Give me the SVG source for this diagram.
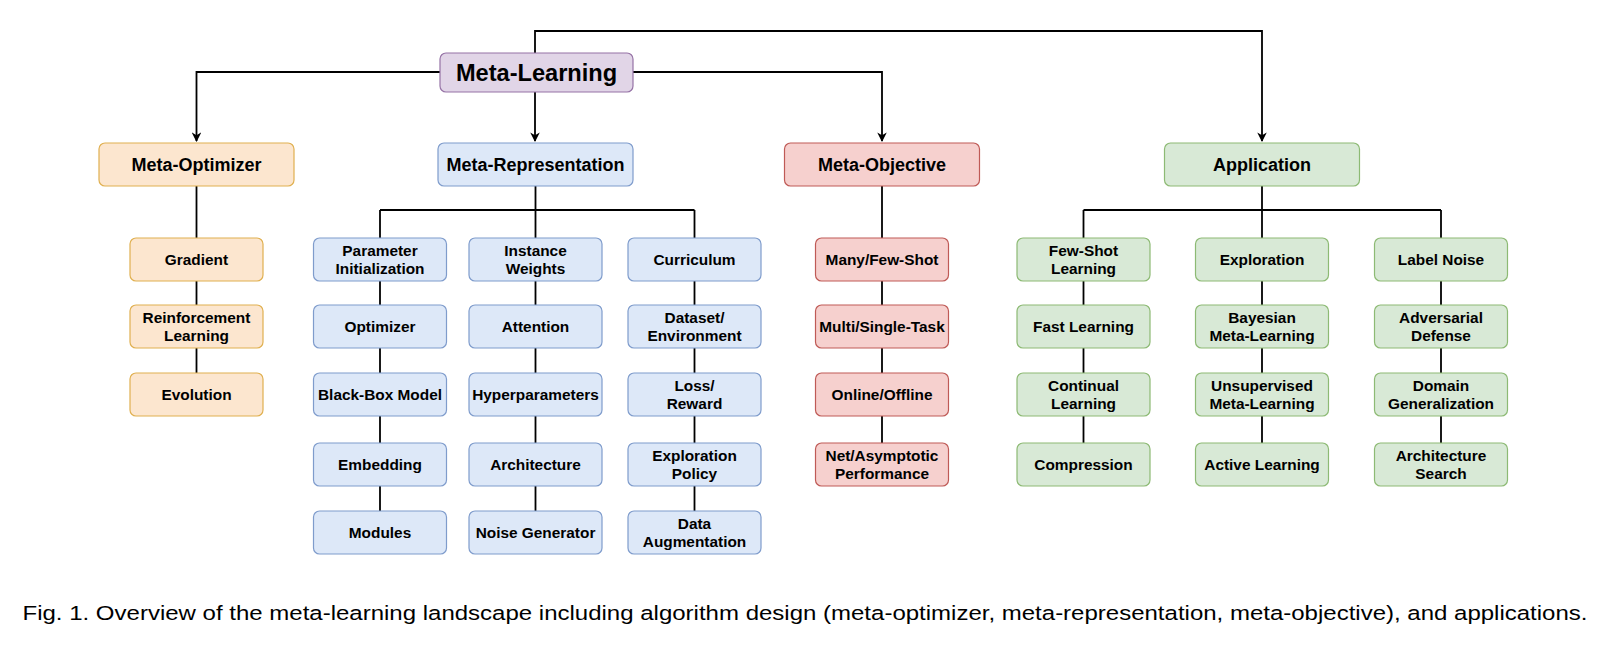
<svg xmlns="http://www.w3.org/2000/svg" width="1606" height="646" viewBox="0 0 1606 646">
<defs>
<marker id="arr" viewBox="0 0 10 10" refX="9" refY="5" markerWidth="9.5" markerHeight="9.5" markerUnits="userSpaceOnUse" orient="auto">
<path d="M0,0 L10,5 L0,10 L3,5 Z" fill="#000"/>
</marker>
<style>
text{font-family:"Liberation Sans",Arial,Helvetica,sans-serif;font-weight:bold;text-anchor:middle;fill:#000}
.c{stroke:#000;stroke-width:1.8;fill:none}
.pu{fill:#e1d5e7;stroke:#9673a6;stroke-width:1.2}
.or{fill:#fce6cf;stroke:#e0b050;stroke-width:1.2}
.bl{fill:#dde8f8;stroke:#7f9ccc;stroke-width:1.2}
.re{fill:#f6d0ce;stroke:#bf5a56;stroke-width:1.2}
.gr{fill:#d8e9d6;stroke:#8dba74;stroke-width:1.2}
.s{font-size:15.4px}
.m{font-size:18px}
.cap{font-family:"Liberation Sans",Arial,sans-serif;font-weight:normal;font-size:20.5px;text-anchor:start}
</style>
</defs>
<rect width="1606" height="646" fill="#fff"/>
<g id="connectors">
<path class="c" d="M535,53 V31 H1262 V141" marker-end="url(#arr)"/>
<path class="c" d="M440,72 H196.5 V141" marker-end="url(#arr)"/>
<path class="c" d="M535,92 V141" marker-end="url(#arr)"/>
<path class="c" d="M633,72 H882 V141" marker-end="url(#arr)"/>
<path class="c" d="M196.5,186 V373"/>
<path class="c" d="M535.5,186 V511"/>
<path class="c" d="M380,210 H694.5"/>
<path class="c" d="M380,210 V511"/>
<path class="c" d="M694.5,210 V511"/>
<path class="c" d="M882,186 V443"/>
<path class="c" d="M1262,186 V443"/>
<path class="c" d="M1083.5,210 H1441"/>
<path class="c" d="M1083.5,210 V443"/>
<path class="c" d="M1441,210 V443"/>
</g>
<g id="meta-learning"><rect class="pu" x="440" y="53" width="193" height="39" rx="6"/><text x="536.5" y="80.5" style="font-size:23.6px">Meta-Learning</text></g>
<g id="meta-optimizer"><rect class="or" x="99" y="143" width="195" height="43" rx="6"/><text class="m" x="196.5" y="171">Meta-Optimizer</text></g>
<g id="meta-representation"><rect class="bl" x="438" y="143" width="195" height="43" rx="6"/><text class="m" x="535.5" y="171">Meta-Representation</text></g>
<g id="meta-objective"><rect class="re" x="784.5" y="143" width="195" height="43" rx="6"/><text class="m" x="882" y="171">Meta-Objective</text></g>
<g id="application"><rect class="gr" x="1164.5" y="143" width="195" height="43" rx="6"/><text class="m" x="1262" y="171">Application</text></g>

<g id="gradient"><rect class="or" x="130" y="238" width="133" height="43" rx="6"/><text class="s" x="196.5" y="265">Gradient</text></g>
<g id="reinforcement-learning"><rect class="or" x="130" y="305" width="133" height="43" rx="6"/><text class="s" x="196.5" y="322.5">Reinforcement</text><text class="s" x="196.5" y="341">Learning</text></g>
<g id="evolution"><rect class="or" x="130" y="373" width="133" height="43" rx="6"/><text class="s" x="196.5" y="400">Evolution</text></g>

<g id="parameter-initialization"><rect class="bl" x="313.5" y="238" width="133" height="43" rx="6"/><text class="s" x="380" y="255.5">Parameter</text><text class="s" x="380" y="274">Initialization</text></g>
<g id="optimizer"><rect class="bl" x="313.5" y="305" width="133" height="43" rx="6"/><text class="s" x="380" y="332">Optimizer</text></g>
<g id="black-box-model"><rect class="bl" x="313.5" y="373" width="133" height="43" rx="6"/><text class="s" x="380" y="400">Black-Box Model</text></g>
<g id="embedding"><rect class="bl" x="313.5" y="443" width="133" height="43" rx="6"/><text class="s" x="380" y="470">Embedding</text></g>
<g id="modules"><rect class="bl" x="313.5" y="511" width="133" height="43" rx="6"/><text class="s" x="380" y="538">Modules</text></g>

<g id="instance-weights"><rect class="bl" x="469" y="238" width="133" height="43" rx="6"/><text class="s" x="535.5" y="255.5">Instance</text><text class="s" x="535.5" y="274">Weights</text></g>
<g id="attention"><rect class="bl" x="469" y="305" width="133" height="43" rx="6"/><text class="s" x="535.5" y="332">Attention</text></g>
<g id="hyperparameters"><rect class="bl" x="469" y="373" width="133" height="43" rx="6"/><text class="s" x="535.5" y="400">Hyperparameters</text></g>
<g id="architecture"><rect class="bl" x="469" y="443" width="133" height="43" rx="6"/><text class="s" x="535.5" y="470">Architecture</text></g>
<g id="noise-generator"><rect class="bl" x="469" y="511" width="133" height="43" rx="6"/><text class="s" x="535.5" y="538">Noise Generator</text></g>

<g id="curriculum"><rect class="bl" x="628" y="238" width="133" height="43" rx="6"/><text class="s" x="694.5" y="265">Curriculum</text></g>
<g id="dataset-environment"><rect class="bl" x="628" y="305" width="133" height="43" rx="6"/><text class="s" x="694.5" y="322.5">Dataset/</text><text class="s" x="694.5" y="341">Environment</text></g>
<g id="loss-reward"><rect class="bl" x="628" y="373" width="133" height="43" rx="6"/><text class="s" x="694.5" y="390.5">Loss/</text><text class="s" x="694.5" y="409">Reward</text></g>
<g id="exploration-policy"><rect class="bl" x="628" y="443" width="133" height="43" rx="6"/><text class="s" x="694.5" y="460.5">Exploration</text><text class="s" x="694.5" y="479">Policy</text></g>
<g id="data-augmentation"><rect class="bl" x="628" y="511" width="133" height="43" rx="6"/><text class="s" x="694.5" y="528.5">Data</text><text class="s" x="694.5" y="547">Augmentation</text></g>

<g id="many-few-shot"><rect class="re" x="815.5" y="238" width="133" height="43" rx="6"/><text class="s" x="882" y="265">Many/Few-Shot</text></g>
<g id="multi-single-task"><rect class="re" x="815.5" y="305" width="133" height="43" rx="6"/><text class="s" x="882" y="332">Multi/Single-Task</text></g>
<g id="online-offline"><rect class="re" x="815.5" y="373" width="133" height="43" rx="6"/><text class="s" x="882" y="400">Online/Offline</text></g>
<g id="net-asymptotic-performance"><rect class="re" x="815.5" y="443" width="133" height="43" rx="6"/><text class="s" x="882" y="460.5">Net/Asymptotic</text><text class="s" x="882" y="479">Performance</text></g>

<g id="few-shot-learning"><rect class="gr" x="1017" y="238" width="133" height="43" rx="6"/><text class="s" x="1083.5" y="255.5">Few-Shot</text><text class="s" x="1083.5" y="274">Learning</text></g>
<g id="fast-learning"><rect class="gr" x="1017" y="305" width="133" height="43" rx="6"/><text class="s" x="1083.5" y="332">Fast Learning</text></g>
<g id="continual-learning"><rect class="gr" x="1017" y="373" width="133" height="43" rx="6"/><text class="s" x="1083.5" y="390.5">Continual</text><text class="s" x="1083.5" y="409">Learning</text></g>
<g id="compression"><rect class="gr" x="1017" y="443" width="133" height="43" rx="6"/><text class="s" x="1083.5" y="470">Compression</text></g>

<g id="exploration"><rect class="gr" x="1195.5" y="238" width="133" height="43" rx="6"/><text class="s" x="1262" y="265">Exploration</text></g>
<g id="bayesian-meta-learning"><rect class="gr" x="1195.5" y="305" width="133" height="43" rx="6"/><text class="s" x="1262" y="322.5">Bayesian</text><text class="s" x="1262" y="341">Meta-Learning</text></g>
<g id="unsupervised-meta-learning"><rect class="gr" x="1195.5" y="373" width="133" height="43" rx="6"/><text class="s" x="1262" y="390.5">Unsupervised</text><text class="s" x="1262" y="409">Meta-Learning</text></g>
<g id="active-learning"><rect class="gr" x="1195.5" y="443" width="133" height="43" rx="6"/><text class="s" x="1262" y="470">Active Learning</text></g>

<g id="label-noise"><rect class="gr" x="1374.5" y="238" width="133" height="43" rx="6"/><text class="s" x="1441" y="265">Label Noise</text></g>
<g id="adversarial-defense"><rect class="gr" x="1374.5" y="305" width="133" height="43" rx="6"/><text class="s" x="1441" y="322.5">Adversarial</text><text class="s" x="1441" y="341">Defense</text></g>
<g id="domain-generalization"><rect class="gr" x="1374.5" y="373" width="133" height="43" rx="6"/><text class="s" x="1441" y="390.5">Domain</text><text class="s" x="1441" y="409">Generalization</text></g>
<g id="architecture-search"><rect class="gr" x="1374.5" y="443" width="133" height="43" rx="6"/><text class="s" x="1441" y="460.5">Architecture</text><text class="s" x="1441" y="479">Search</text></g>

<text class="cap" x="22.5" y="619.5" textLength="1565" lengthAdjust="spacingAndGlyphs">Fig. 1. Overview of the meta-learning landscape including algorithm design (meta-optimizer, meta-representation, meta-objective), and applications.</text>
</svg>
